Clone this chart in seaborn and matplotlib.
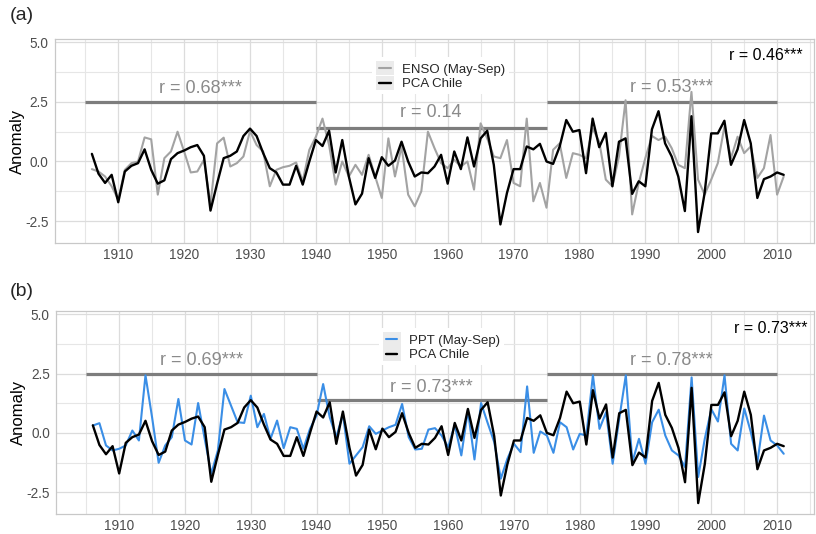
import numpy as np
import pandas as pd
import matplotlib
matplotlib.use("Agg")
import matplotlib.pyplot as plt
import seaborn as sns
from matplotlib.lines import Line2D
from matplotlib.patches import Rectangle
from matplotlib.legend_handler import HandlerBase
from matplotlib.ticker import MultipleLocator, FormatStrFormatter

# ---------------- data ----------------
years = list(range(1906, 2012))

pca_chile = [
    0.32, -0.51, -0.90, -0.56, -1.71, -0.42, -0.18, -0.07, 0.51, -0.35,
    -0.93, -0.79, 0.10, 0.35, 0.46, 0.60, 0.69, 0.24, -2.06, -0.93,
    0.14, 0.24, 0.42, 1.07, 1.38, 1.07, 0.35, -0.28, -0.46, -0.97,
    -0.97, -0.18, -0.97, 0.00, 0.90, 0.65, 1.29, -0.46, 0.90, -0.63,
    -1.80, -1.35, 0.14, -0.69, 0.18, -0.18, 0.04, 0.83, 0.00, -0.63,
    -0.46, -0.49, -0.21, 0.28, -0.93, 0.42, -0.32, 1.01, -0.21, 0.97,
    1.29, -0.14, -2.64, -1.32, -0.32, -0.32, 0.63, 0.51, 0.74, 0.00,
    -0.10, 0.63, 1.74, 1.25, 1.32, -0.49, 1.80, 0.60, 1.20, -1.04,
    0.83, 0.97, -1.36, -0.83, -1.04, 1.35, 2.11, 0.76, 0.21, -0.63,
    -2.08, 1.90, -2.96, -1.32, 1.18, 1.18, 1.71, -0.14, 0.51, 1.74,
    0.76, -1.53, -0.74, -0.63, -0.46, -0.56,
]

enso = [
    -0.32, -0.42, -0.63, -1.04, -1.60, -0.35, -0.07, 0.00, 1.01, 0.93,
    -1.39, 0.14, 0.42, 1.25, 0.42, -0.46, -0.42, 0.07, -1.81, 0.76,
    1.00, -0.21, -0.07, 0.21, 1.28, 0.69, 0.42, -1.04, -0.35, -0.24,
    -0.18, -0.04, -0.83, 0.49, 1.04, 1.80, 0.69, -0.97, 0.00, -0.63,
    -0.14, -0.56, 0.28, -0.63, -1.53, 0.97, -0.63, 0.63, -1.39, -1.88,
    -1.25, 1.25, 0.56, -0.07, -0.28, 0.07, -0.21, 0.00, -1.18, 1.60,
    0.97, 0.21, 0.14, 0.90, -0.90, -1.04, 1.80, -1.67, -0.90, -1.94,
    0.49, 0.76, -0.69, 0.35, 0.28, 0.14, 1.39, 0.83, -0.76, -1.04,
    0.21, 2.57, -2.22, -0.90, 0.14, 1.07, 0.90, 1.04, 0.56, -0.14,
    -0.28, 2.92, -0.76, -1.39, -0.76, -0.07, 1.46, 0.14, 1.04, 0.35,
    0.63, -0.69, -0.28, 1.11, -1.39, -0.63,
]

ppt = [
    0.31, 0.41, -0.53, -0.74, -0.67, -0.53, 0.10, -0.32, 2.43, 0.66,
    -1.26, -0.53, -0.18, 1.43, -0.32, -0.49, 1.26, -0.25, -1.72, -0.74,
    1.85, 1.15, 0.45, 0.42, 1.57, 0.24, 0.80, -0.25, 0.52, -0.64,
    0.24, 0.17, -0.67, 0.17, 0.73, 2.06, 0.66, -0.18, 0.80, -1.30,
    -0.95, -0.60, 0.28, -0.04, 0.10, 0.24, 0.34, 1.22, -0.18, -0.70,
    -0.67, 0.14, 0.20, -0.11, -0.60, 0.34, -0.95, 0.94, -1.12, 1.26,
    0.42, -0.39, -1.93, -1.09, -0.46, -0.81, 1.96, -0.84, 0.06, -0.11,
    -0.84, 0.45, 0.24, -0.70, -0.04, -0.11, 2.43, 0.17, 0.87, -1.30,
    0.59, 2.43, -1.23, -0.25, -1.30, 0.45, 0.98, -0.11, -0.74, -0.95,
    -1.44, 2.34, -1.86, -0.25, 1.00, 0.48, 2.43, -0.46, -0.74, 1.03,
    0.03, -1.23, 0.73, -0.32, -0.53, -0.88,
]

# period segments (start, end, level)
seg_start = [1905, 1940, 1975]
seg_end = [1940, 1975, 2010]
seg_level = [2.5, 1.4, 2.5]

# period correlation labels
labels_a = ["r = 0.68***", "r = 0.14", "r = 0.53***"]
labels_b = ["r = 0.69***", "r = 0.73***", "r = 0.78***"]
label_x = [1922.5, 1957.5, 1994.0]
label_y_a = [2.86, 1.85, 2.93]
label_y_b = [2.87, 1.72, 2.87]

overall_a = "r = 0.46***"
overall_b = "r = 0.73***"
overall_x_a = 2013.8
overall_x_b = 2014.6
overall_y_a = 4.26
overall_y_b = 4.23

x_ticks = [1910, 1920, 1930, 1940, 1950, 1960, 1970, 1980, 1990, 2000, 2010]
y_ticks = [-2.5, 0.0, 2.5, 5.0]

# ---------------- style ----------------
sns.set_style("white")
plt.rcParams["font.family"] = ["Liberation Sans", "DejaVu Sans"]
plt.rcParams["axes.unicode_minus"] = False

W, H = 816, 534
fig = plt.figure(figsize=(W / 100, H / 100), dpi=100)


def add_ax(left, top, right, bottom):
    return fig.add_axes([left / W, 1 - bottom / H, (right - left) / W, (bottom - top) / H])


ax_a = add_ax(55, 39, 814, 243)
ax_b = add_ax(56, 311, 814, 514)

df = pd.DataFrame({"Year": years, "PCA Chile": pca_chile,
                   "ENSO (May-Sep)": enso, "PPT (May-Sep)": ppt})

GREY_LINE = "#a3a3a3"
BLUE_LINE = "#3a8ee6"
SEG_COL = "#7d7d7d"
LAB_COL = "#8a8a8a"
KEY_BG = "#ebebeb"


class KeyHandler(HandlerBase):
    """ggplot-like legend key: grey box with a short line in the middle."""

    def create_artists(self, legend, orig_handle, xdescent, ydescent, width, height,
                       fontsize, trans):
        rect = Rectangle((-xdescent, -ydescent), width, height, facecolor=KEY_BG,
                         edgecolor="none", transform=trans)
        y = -ydescent + height / 2
        line = Line2D([-xdescent + width * 0.18, -xdescent + width * 0.82], [y, y],
                      color=orig_handle.get_color(), lw=orig_handle.get_linewidth(),
                      transform=trans)
        return [rect, line]


def draw_panel(ax, other_col, other_color, labels, label_y, overall, overall_x, overall_y):
    sns.lineplot(data=df, x="Year", y=other_col, color=other_color, lw=1.5, ax=ax, zorder=3)
    sns.lineplot(data=df, x="Year", y="PCA Chile", color="black", lw=1.7, ax=ax, zorder=4)
    ax.hlines(seg_level, seg_start, seg_end, color=SEG_COL, lw=2.3, zorder=2)
    for t, x, y in zip(labels, label_x, label_y):
        ax.text(x, y, t, ha="center", va="baseline", fontsize=13, color=LAB_COL, zorder=5)
    ax.text(overall_x, overall_y, overall, ha="right", va="baseline", fontsize=11.5,
            color="black", zorder=5)

    ax.set_xlim(1900.4, 2015.6)
    ax.set_ylim(-3.42, 5.14)
    ax.set_xticks(x_ticks)
    ax.set_yticks(y_ticks)
    ax.xaxis.set_minor_locator(MultipleLocator(5))
    ax.yaxis.set_minor_locator(MultipleLocator(1.25))
    ax.yaxis.set_major_formatter(FormatStrFormatter("%.1f"))
    ax.grid(True, which="major", color="#dcdcdc", lw=0.9, zorder=0)
    ax.grid(True, which="minor", color="#e6e6e6", lw=0.8, zorder=0)
    ax.set_axisbelow(True)
    ax.tick_params(which="major", length=3, width=0.8, color="#b0b0b0",
                   labelsize=9.8, labelcolor="#4d4d4d", pad=1.5)
    ax.tick_params(axis="x", which="major", pad=0.5)
    ax.tick_params(which="minor", length=0)
    for s in ax.spines.values():
        s.set_color("#c8c8c8")
        s.set_linewidth(0.9)
    ax.set_xlabel("")
    ax.set_ylabel("Anomaly", fontsize=12, color="black")
    ax.yaxis.set_label_coords(-0.0395, 0.5)

    return [Line2D([], [], color=other_color, lw=1.5), Line2D([], [], color="black", lw=1.7)]


legend_kw = dict(handler_map={Line2D: KeyHandler()}, loc="upper left", fontsize=9.5,
                 frameon=True, facecolor="white", edgecolor="none", framealpha=1,
                 borderpad=0.3, handlelength=1.35, handleheight=1.3,
                 handletextpad=0.65, labelspacing=0.0, borderaxespad=0)

h_a = draw_panel(ax_a, "ENSO (May-Sep)", GREY_LINE, labels_a, label_y_a, overall_a,
                 overall_x_a, overall_y_a)
ax_a.legend(h_a, ["ENSO (May-Sep)", "PCA Chile"], bbox_to_anchor=(0.4177, 0.912), **legend_kw)

h_b = draw_panel(ax_b, "PPT (May-Sep)", BLUE_LINE, labels_b, label_y_b, overall_b,
                 overall_x_b, overall_y_b)
ax_b.legend(h_b, ["PPT (May-Sep)", "PCA Chile"], bbox_to_anchor=(0.426, 0.915), **legend_kw)

fig.text(10 / W, 1 - 16 / H, "(a)", fontsize=14, va="center", ha="left")
fig.text(10 / W, 1 - 291 / H, "(b)", fontsize=14, va="center", ha="left")

fig.savefig("out.png", dpi=100)
